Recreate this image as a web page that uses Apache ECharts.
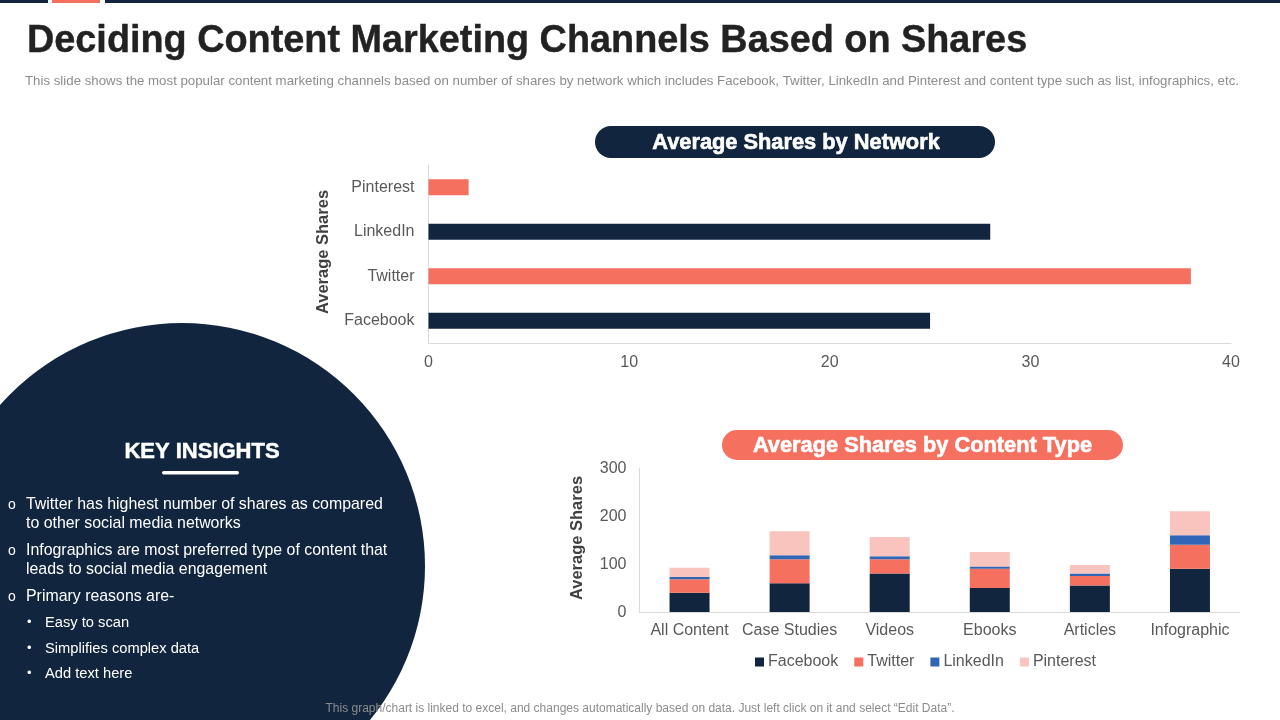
<!DOCTYPE html>
<html>
<head>
<meta charset="UTF-8">
<title>Deciding Content Marketing Channels Based on Shares</title>
<script src="https://cdn.jsdelivr.net/npm/echarts@6/dist/echarts.min.js"></script>
<style>
html, body { margin: 0; padding: 0; background: #fff; }
#content { width: 1280px; height: 720px; }
</style>
</head>
<body>
<div id="content"></div>
<script>
// top chart
var networks = ['Facebook', 'Twitter', 'LinkedIn', 'Pinterest'];
var networkShares = [25, 38, 28, 2];
var networkTicks = [0, 10, 20, 30, 40];

// bottom chart
var contentTypes = ['All Content', 'Case Studies', 'Videos', 'Ebooks', 'Articles', 'Infographic'];
var facebook = [40, 60, 80, 50, 55, 90];
var twitter = [28, 50, 30, 40, 20, 50];
var linkedin = [5, 8, 6, 5, 5, 20];
var pinterest = [19, 50, 40, 30, 18, 50];

// texts
var titleText = 'Deciding Content Marketing Channels Based on Shares';
var subtitleText = 'This slide shows the most popular content marketing channels based on number of shares by network which includes Facebook, Twitter, LinkedIn and Pinterest and content type such as list, infographics, etc.';
var footerText = 'This graph/chart is linked to excel, and changes automatically based on data. Just left click on it and select \u201CEdit Data\u201D.';
var insights = [
    ['o', 'Twitter has highest number of shares as compared', 504],
    ['', 'to other social media networks', 523],
    ['o', 'Infographics are most preferred type of content that', 550],
    ['', 'leads to social media engagement', 569],
    ['o', 'Primary reasons are-', 596]
];
var reasons = [
    ['Easy to scan', 622],
    ['Simplifies complex data', 648],
    ['Add text here', 673]
];

var NAVY = '#11253F', CORAL = '#F6705F', BLUE = '#3165B5', PINK = '#F9C4BE';
var FONT = '"Liberation Sans", Arial, sans-serif';
var GREY = '#595959';

// extra: scaleX, heavy (thin outline, the original face is heavier than Liberation bold)
function label(x, y, text, size, color, weight, align, extra) {
    extra = extra || {};
    return {
        type: 'text', x: x, y: y + 1.5, z: 10, scaleX: extra.scaleX || 1,
        style: {
            text: text, fill: color, font: (weight || 'normal') + ' ' + size + 'px ' + FONT,
            align: align || 'left', verticalAlign: 'middle',
            stroke: extra.heavy ? color : null, lineWidth: extra.heavy || 0
        }
    };
}

var shapes = [
    { type: 'rect', shape: { x: 0, y: 0, width: 48, height: 3 }, style: { fill: NAVY } },
    { type: 'rect', shape: { x: 52, y: 0, width: 48, height: 3 }, style: { fill: CORAL } },
    { type: 'rect', shape: { x: 105, y: 0, width: 1175, height: 3 }, style: { fill: NAVY } },
    { type: 'circle', shape: { cx: 182, cy: 566, r: 243 }, style: { fill: NAVY } },
    { type: 'rect', shape: { x: 595, y: 126, width: 400, height: 32, r: 16 }, style: { fill: NAVY } },
    { type: 'rect', shape: { x: 722, y: 430, width: 401, height: 30, r: 15 }, style: { fill: CORAL } },
    { type: 'rect', shape: { x: 162, y: 471, width: 77, height: 3.5, r: 1.7 }, style: { fill: '#fff' } },
    label(27, 39.5, titleText, 38.4, '#222222', 'bold', 'left', { scaleX: 0.985, heavy: 0.4 }),
    label(25, 80.5, subtitleText, 12.2, '#8c8c8c', 'normal', 'left', { scaleX: 1.088 }),
    label(796, 141.5, 'Average Shares by Network', 21.8, '#fff', 'bold', 'center', { heavy: 0.6 }),
    label(922.5, 444.5, 'Average Shares by Content Type', 21.8, '#fff', 'bold', 'center', { heavy: 0.6 }),
    label(202, 450, 'KEY INSIGHTS', 22, '#fff', 'bold', 'center', { heavy: 0.5 }),
    label(640, 707, footerText, 12, '#8c8c8c', 'normal', 'center')
];
insights.forEach(function (row) {
    if (row[0]) shapes.push(label(8, row[2] - 0.5, row[0], 14, '#fff'));
    shapes.push(label(26, row[2] - 1, row[1], 15.9, '#fff'));
});
reasons.forEach(function (row) {
    shapes.push(label(27, row[1] - 1, '\u2022', 13, '#fff'));
    shapes.push(label(45, row[1] - 1, row[0], 14.7, '#fff'));
});

function stack(name, values, color) {
    return {
        name: name, type: 'bar', stack: 'shares', xAxisIndex: 1, yAxisIndex: 1,
        barWidth: 40, data: values, itemStyle: { color: color }
    };
}

var axisLine = { show: true, lineStyle: { color: '#d9d9d9', width: 1 } };
var tickFont = { color: GREY, fontFamily: FONT, fontSize: 16 };
var axisTitle = { color: '#404040', fontFamily: FONT, fontWeight: 'bold', fontSize: 16.5, padding: [0, 0, 0, 4] };

var option = {
    animation: false,
    backgroundColor: '#fff',
    textStyle: { fontFamily: FONT },
    graphic: shapes,
    legend: {
        data: networks, top: 649, left: 750, itemWidth: 9, itemHeight: 9, itemGap: 16,
        icon: 'rect',
        textStyle: { color: GREY, fontFamily: FONT, fontSize: 16, padding: [0, 0, 0, -1] }
    },
    grid: [
        { left: 428.5, top: 165, width: 802.5, height: 178 },
        { left: 639.5, top: 468, width: 600.5, height: 144 }
    ],
    xAxis: [
        {
            gridIndex: 0, type: 'value', min: networkTicks[0], max: networkTicks[4], interval: 10,
            axisLine: axisLine, axisTick: { show: false }, splitLine: { show: false },
            axisLabel: Object.assign({ margin: 12 }, tickFont)
        },
        {
            gridIndex: 1, type: 'category', data: contentTypes,
            axisLine: axisLine, axisTick: { show: false },
            axisLabel: Object.assign({ margin: 11, interval: 0 }, tickFont)
        }
    ],
    yAxis: [
        {
            gridIndex: 0, type: 'category', data: networks,
            axisLine: axisLine, axisTick: { show: false },
            axisLabel: Object.assign({ margin: 14 }, tickFont),
            name: 'Average Shares', nameLocation: 'middle', nameGap: 97,
            nameTextStyle: axisTitle
        },
        {
            gridIndex: 1, type: 'value', min: 0, max: 300, interval: 100,
            axisLine: axisLine, axisTick: { show: false }, splitLine: { show: false },
            axisLabel: Object.assign({ margin: 13, verticalAlign: 'top', padding: [-7, 0, 0, 0] }, tickFont),
            name: 'Average Shares', nameLocation: 'middle', nameGap: 54,
            nameTextStyle: axisTitle
        }
    ],
    series: [
        {
            name: 'Average Shares', type: 'bar', xAxisIndex: 0, yAxisIndex: 0, barWidth: 16,
            data: networkShares.map(function (v, i) {
                return { value: v, itemStyle: { color: i % 2 ? CORAL : NAVY } };
            })
        },
        stack('Facebook', facebook, NAVY),
        stack('Twitter', twitter, CORAL),
        stack('LinkedIn', linkedin, BLUE),
        stack('Pinterest', pinterest, PINK)
    ]
};

var myChart = echarts.init(document.getElementById('content'));
myChart.setOption(option);
</script>
</body>
</html>
